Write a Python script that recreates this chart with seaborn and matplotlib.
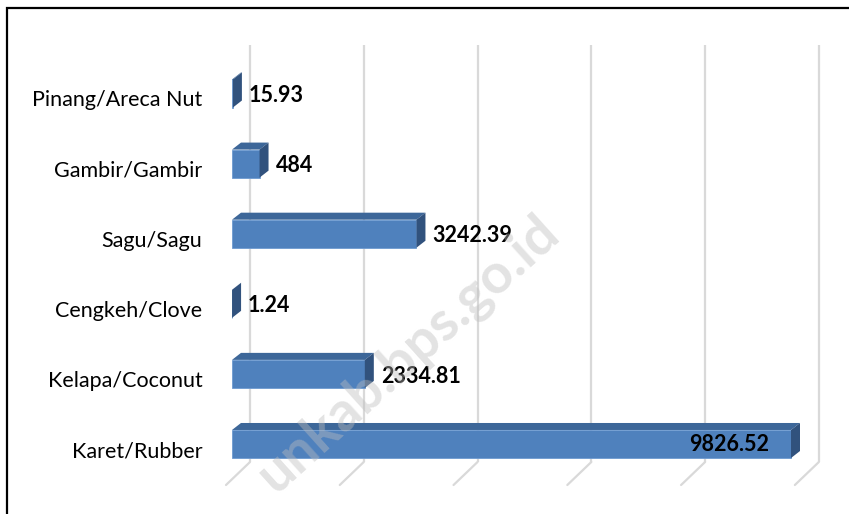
import numpy as np
import pandas as pd
import matplotlib
matplotlib.use("Agg")
import matplotlib.pyplot as plt
import matplotlib.transforms as mtransforms
from matplotlib.patches import Polygon, Rectangle
import seaborn as sns

# data
categories = ["Pinang/Areca Nut", "Gambir/Gambir", "Sagu/Sagu",
              "Cengkeh/Clove", "Kelapa/Coconut", "Karet/Rubber"]
values = [15.93, 484, 3242.39, 1.24, 2334.81, 9826.52]
value_labels = ["15.93", "484", "3242.39", "1.24", "2334.81", "9826.52"]
grid_ticks = [0, 2000, 4000, 6000, 8000, 10000]

df = pd.DataFrame({"crop": categories, "value": values})

sns.set_theme(style="white")
plt.rcParams["font.family"] = ["Lato", "DejaVu Sans"]

W, H = 849, 514
fig = plt.figure(figsize=(W / 100, H / 100), dpi=100)

# axes placed in pixels so the pseudo-3D offsets are easy to reason about
s = 559 / 9826.52          # px per unit
row = 70.1                 # px per category
y0 = 93.5                  # pixel y of first category
left_px, right_px, top_px, bot_px = 208, 849, 30, 500
ax = fig.add_axes([left_px / W, 1 - bot_px / H, (right_px - left_px) / W, (bot_px - top_px) / H])

sns.barplot(data=df, x="value", y="crop", orient="h", color="#4f81bd",
            saturation=1, width=0.4, ax=ax, zorder=3, edgecolor="#6d9ad0", linewidth=0.6)

ax.set_xlim((left_px - 232) / s, (right_px - 232) / s)
ax.set_ylim((bot_px - y0) / row, (top_px - y0) / row)

# back wall gridlines + floor diagonals
back = 18 / s
grid_top = (45 - y0) / row
grid_bot = (462 - y0) / row
floor_y = (485 - y0) / row
for g in grid_ticks:
    gx = g + back
    ax.plot([gx, gx], [grid_top, grid_bot], color="#d9d9d9", lw=1.6, zorder=1, solid_capstyle="butt")
    ax.plot([gx, gx - 24 / s], [grid_bot, floor_y], color="#d9d9d9", lw=1.6, zorder=1)

# top and side faces of the bars
dx = 9 / s
dy = 7 / row
half = 0.2
for i, v in enumerate(values):
    top = i - half
    bot = i + half
    ax.add_patch(Polygon([(0, top), (dx, top - dy), (v + dx, top - dy), (v, top)],
                         closed=True, facecolor="#3d6799", edgecolor="none", zorder=4))
    ax.add_patch(Polygon([(v, top), (v + dx, top - dy), (v + dx, bot - dy), (v, bot)],
                         closed=True, facecolor="#31527d", edgecolor="none", zorder=4))
    if v > 8000:
        ax.text(v - 22 / s, i + 0.0, value_labels[i], ha="right", va="center",
                fontsize=15.5, fontweight="bold", color="black", zorder=6)
    else:
        ax.text(v + dx + 7 / s, i + 0.03, value_labels[i], ha="left", va="center",
                fontsize=15.5, fontweight="bold", color="black", zorder=6)

ax.set_xlabel("")
ax.set_ylabel("")
ax.set_xticks([])
ax.tick_params(axis="y", length=0, pad=4, labelsize=15.5, labelcolor="black")
shift = mtransforms.ScaledTranslation(0, -5 / 100, fig.dpi_scale_trans)
for lab in ax.get_yticklabels():
    lab.set_transform(lab.get_transform() + shift)
for sp in ax.spines.values():
    sp.set_visible(False)
ax.patch.set_alpha(0)

# watermark
fig.text(562 / W, 1 - 236 / H, "unkab.bps.go.id", rotation=42, rotation_mode="anchor",
         ha="right", va="baseline", fontsize=40, fontweight="bold",
         color="#bdbdbd", alpha=0.42, zorder=10)

# outer frame
fig.add_artist(Rectangle((7 / W, -0.05), 1.1, 1.05 - 8 / H + 0.0, transform=fig.transFigure,
                         fill=False, edgecolor="black", lw=1.6))

fig.savefig("out.png", dpi=100)
